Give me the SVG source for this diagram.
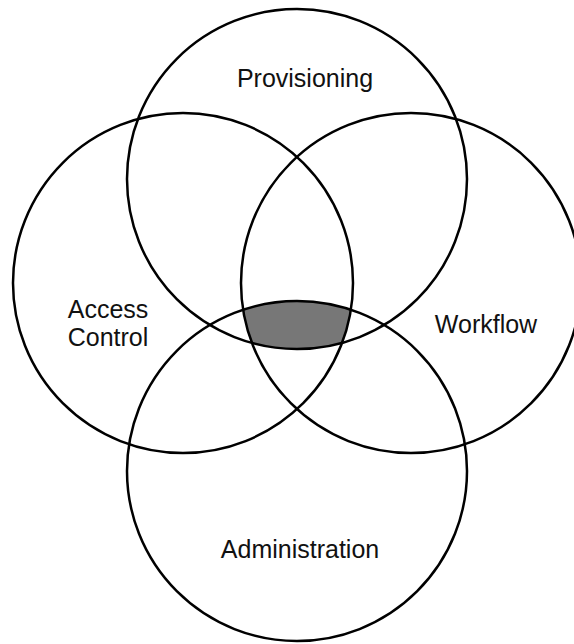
<svg xmlns="http://www.w3.org/2000/svg" width="574" height="644" viewBox="0 0 574 644">
  <style>
    .ring { fill: none; stroke: #000; stroke-width: 2.5; }
    .core { fill: #777; stroke: none; }
    .label { font-family: "Liberation Sans", Arial, sans-serif; font-size: 25px; fill: #111; text-anchor: middle; }
  </style>
  <defs>
    <clipPath id="clip-top"><circle cx="297" cy="179" r="170"/></clipPath>
    <clipPath id="clip-left"><circle cx="183" cy="283" r="170"/></clipPath>
    <clipPath id="clip-right"><circle cx="411" cy="283" r="170"/></clipPath>
  </defs>
  <rect width="574" height="644" fill="#fff"/>

  <!-- shared region of all four sets -->
  <g id="core">
    <g clip-path="url(#clip-top)">
      <g clip-path="url(#clip-left)">
        <g clip-path="url(#clip-right)">
          <circle class="core" cx="297" cy="471" r="170"/>
        </g>
      </g>
    </g>
  </g>

  <g id="provisioning">
    <circle class="ring" cx="297" cy="179" r="170"/>
    <text class="label" x="305" y="87">Provisioning</text>
  </g>
  <g id="access-control">
    <circle class="ring" cx="183" cy="283" r="170"/>
    <text class="label" x="108" y="318">Access</text>
    <text class="label" x="108" y="346">Control</text>
  </g>
  <g id="workflow">
    <circle class="ring" cx="411" cy="283" r="170"/>
    <text class="label" x="486" y="333">Workflow</text>
  </g>
  <g id="administration">
    <circle class="ring" cx="297" cy="471" r="170"/>
    <text class="label" x="300" y="558">Administration</text>
  </g>
  <g id="connectors"/>
</svg>
